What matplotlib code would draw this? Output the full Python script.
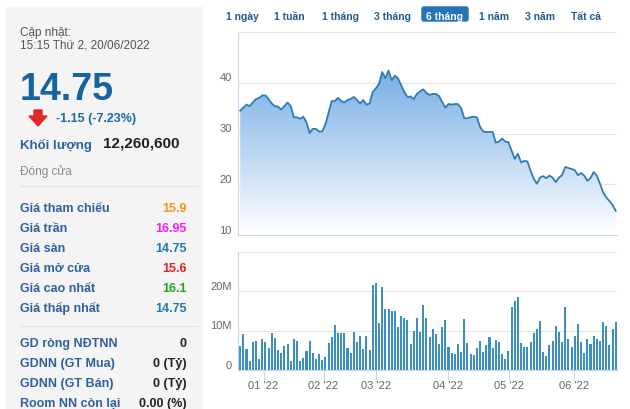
import numpy as np
import matplotlib
matplotlib.use('Agg')
import matplotlib.pyplot as plt
from matplotlib.colors import LinearSegmentedColormap, Normalize
from matplotlib.patches import Rectangle, FancyBboxPatch, Polygon, PathPatch
from matplotlib.transforms import ScaledTranslation

plt.rcParams['font.family'] = ['Liberation Sans', 'DejaVu Sans']

# daily close (last 6 months) and volume in millions
price = [34.5, 35.1, 35.7, 35.4, 36.1, 36.8, 37.0, 37.5, 37.5, 36.8,
         35.9, 35.4, 35.3, 34.7, 35.4, 36.1, 35.4, 33.2, 33.2, 32.9,
         33.3, 32.2, 30.1, 30.9, 30.9, 30.4, 30.4, 31.8, 34.1, 36.4,
         36.4, 37.0, 36.4, 36.1, 36.6, 36.8, 37.2, 36.6, 35.9, 36.6,
         35.7, 35.9, 38.2, 38.9, 39.8, 42.1, 40.9, 42.4, 40.5, 41.4,
         40.9, 39.5, 38.2, 37.2, 37.3, 36.8, 37.8, 38.3, 38.7, 38.0,
         37.6, 37.8, 37.8, 37.4, 36.2, 35.1, 35.8, 35.7, 35.8, 35.8,
         35.0, 33.0, 33.0, 33.2, 33.3, 33.2, 31.3, 30.4, 30.3, 30.3,
         30.3, 28.2, 28.4, 29.0, 28.4, 28.3, 26.6, 25.0, 26.0, 24.3,
         24.6, 24.5, 22.7, 21.1, 20.1, 21.3, 21.6, 21.2, 21.7, 21.3,
         20.4, 21.3, 21.8, 23.4, 23.2, 23.0, 22.8, 21.8, 22.2, 21.7,
         20.7, 21.2, 22.4, 21.7, 20.1, 18.4, 17.4, 16.7, 15.9, 14.75]
volume = [6.1, 9.2, 5.3, 2.4, 7.0, 7.3, 2.9, 7.8, 7.0, 5.6,
          9.5, 8.2, 5.0, 4.4, 6.2, 6.5, 2.4, 8.0, 7.3, 2.3,
          3.1, 4.8, 7.5, 4.3, 2.9, 4.1, 2.6, 3.3, 6.8, 8.3,
          11.4, 9.4, 9.4, 9.4, 5.6, 4.4, 9.7, 7.0, 8.7, 5.3,
          8.7, 5.0, 21.7, 22.2, 12.0, 21.1, 15.6, 15.4, 14.9, 15.0,
          10.9, 13.8, 13.2, 12.6, 6.6, 9.9, 13.2, 9.6, 16.6, 13.2,
          8.3, 10.4, 9.1, 6.6, 10.9, 12.8, 5.8, 4.3, 4.1, 6.6,
          4.6, 13.0, 6.8, 4.1, 3.8, 5.6, 7.4, 4.6, 6.3, 8.3,
          5.6, 7.7, 7.1, 4.1, 2.9, 4.9, 16.1, 17.5, 18.5, 6.8,
          5.8, 5.8, 7.0, 9.4, 10.4, 12.4, 4.6, 3.6, 6.3, 7.4,
          11.3, 9.7, 7.0, 16.1, 8.0, 5.8, 8.7, 11.6, 7.0, 4.3,
          7.9, 6.5, 8.7, 7.8, 7.5, 12.1, 11.3, 6.3, 10.4, 12.26]
month_labels = ["01 '22", "02 '22", "03 '22", "04 '22", "05 '22", "06 '22"]
month_pos = [7.4, 26.4, 43.1, 65.7, 85.3, 105.7]
price_ticks = [10, 20, 30, 40, 50]
price_tick_labels = ['10', '20', '30', '40', '']
vol_ticks = [0, 10, 20, 30]
vol_tick_labels = ['0', '10M', '20M', '']

ranges = ['1 ngày', '1 tuần', '1 tháng', '3 tháng', '6 tháng', '1 năm', '3 năm', 'Tất cả']
active_range = '6 tháng'

info_labels = ['Giá tham chiếu', 'Giá trần', 'Giá sàn', 'Giá mở cửa', 'Giá cao nhất', 'Giá thấp nhất']
info_values = ['15.9', '16.95', '14.75', '15.6', '16.1', '14.75']
info_colors = ['#f7931e', '#ee22ee', '#1c7ab4', '#e2202a', '#1ea81e', '#1c7ab4']
foreign_labels = ['GD ròng NĐTNN', 'GDNN (GT Mua)', 'GDNN (GT Bán)', 'Room NN còn lại']
foreign_values = ['0', '0 (Tỷ)', '0 (Tỷ)', '0.00 (%)']

W, H = 630, 410
fig = plt.figure(figsize=(W / 100, H / 100), dpi=100)
bg = fig.add_axes([0, 0, 1, 1])
bg.set_xlim(0, W)
bg.set_ylim(H, 0)
bg.axis('off')

def box(l, t, r, b):
    return [l / W, 1 - b / H, (r - l) / W, (b - t) / H]

blue_lbl = '#30609f'

# left info panel
bg.add_patch(Rectangle((6, 8), 196, 410, color='#f4f4f4', zorder=0))
bg.text(20, 36, 'Cập nhật:', fontsize=8.5, color='#555555')
bg.text(20, 49, '15:15 Thứ 2, 20/06/2022', fontsize=8.5, color='#555555')
bg.text(20, 100, '14.75', fontsize=27, fontweight='bold', color='#15639f')
bg.add_patch(Polygon([(34, 111), (42, 111), (42, 117), (47, 117), (38, 127),
                      (29, 117), (34, 117)], closed=True, color='#e3262b'))
bg.text(56, 122, '-1.15 (-7.23%)', fontsize=9, fontweight='bold', color='#1c6aa8')
bg.text(20, 149, 'Khối lượng', fontsize=9.5, fontweight='bold', color=blue_lbl)
bg.text(103, 148, '12,260,600', fontsize=11, fontweight='bold', color='#222222')
bg.text(20, 175, 'Đóng cửa', fontsize=8.5, color='#8a8a8a')
bg.plot([20, 198], [187, 187], color='#e2e2e2', lw=0.8)
for i, (lab, val, c) in enumerate(zip(info_labels, info_values, info_colors)):
    y = 212 + 20 * i
    bg.text(20, y, lab, fontsize=9, fontweight='bold', color=blue_lbl)
    bg.text(187, y, val, fontsize=9, fontweight='bold', color=c, ha='right')
bg.plot([20, 198], [327, 327], color='#e2e2e2', lw=0.8)
for i, (lab, val) in enumerate(zip(foreign_labels, foreign_values)):
    y = 347 + 20 * i
    bg.text(20, y, lab, fontsize=9, fontweight='bold', color=blue_lbl)
    bg.text(187, y, val, fontsize=9, fontweight='bold', color='#222222', ha='right')

# range buttons
btn_x = [242, 289, 340, 392, 445, 494, 540, 586]
for x, r in zip(btn_x, ranges):
    if r == active_range:
        bg.add_patch(FancyBboxPatch((x - 23, 8), 46, 14,
                                    boxstyle='round,pad=0,rounding_size=2',
                                    color='#2472b7'))
        bg.text(x, 19.5, r, fontsize=7.5, fontweight='bold', color='white', ha='center')
    else:
        bg.text(x, 19.5, r, fontsize=7.5, fontweight='bold', color='#1e5b95', ha='center')

x = np.arange(len(price))
xlim = (-0.7, len(price) - 0.6)
axis_col = '#ccd6eb'
grid_col = '#e6e6e6'
lbl_shift = ScaledTranslation(0, 4.5 / 72, fig.dpi_scale_trans)

def style(ax):
    ax.set_facecolor('none')
    ax.set_xlim(*xlim)
    for s in ['top', 'right']:
        ax.spines[s].set_visible(False)
    ax.spines['left'].set_color(axis_col)
    ax.spines['bottom'].set_color(axis_col)
    ax.grid(axis='y', color=grid_col, lw=0.8)
    ax.set_axisbelow(True)
    ax.tick_params(axis='y', length=0, pad=4.5, labelsize=8, labelcolor='#666666')
    for lab in ax.get_yticklabels():
        lab.set_transform(lab.get_transform() + lbl_shift)

# price panel
ax = fig.add_axes(box(238, 33, 617, 236))
poly = ax.fill_between(x, price, 10, color='none', lw=0)
clip = PathPatch(poly.get_paths()[0], transform=ax.transData, facecolor='none', edgecolor='none')
ax.add_patch(clip)
cmap = LinearSegmentedColormap.from_list('fill', ['#ffffff', '#6aa6e3'])
grad = np.linspace(10, 50, 300).reshape(-1, 1)
im = ax.imshow(grad, extent=[xlim[0], xlim[1], 10, 50], origin='lower', aspect='auto',
               cmap=cmap, norm=Normalize(10, 46), zorder=1)
im.set_clip_path(clip)
ax.plot(x, price, color='#2d7db6', lw=1.3, zorder=3)
ax.set_ylim(10, 50)
ax.set_yticks(price_ticks)
ax.set_yticklabels(price_tick_labels)
ax.set_xticks([])
style(ax)

# volume panel
ax2 = fig.add_axes(box(238, 253, 617, 371))
ax2.bar(x, volume, width=0.65, color='#3d8ec1', zorder=2)
ax2.set_ylim(0, 30)
ax2.set_yticks(vol_ticks)
ax2.set_yticklabels(vol_tick_labels)
ax2.set_xticks(month_pos)
ax2.set_xticklabels(month_labels)
ax2.tick_params(axis='x', length=7, width=0.8, color=axis_col, pad=0.5,
                labelsize=8, labelcolor='#666666')
style(ax2)

fig.savefig('out.png', dpi=100)
